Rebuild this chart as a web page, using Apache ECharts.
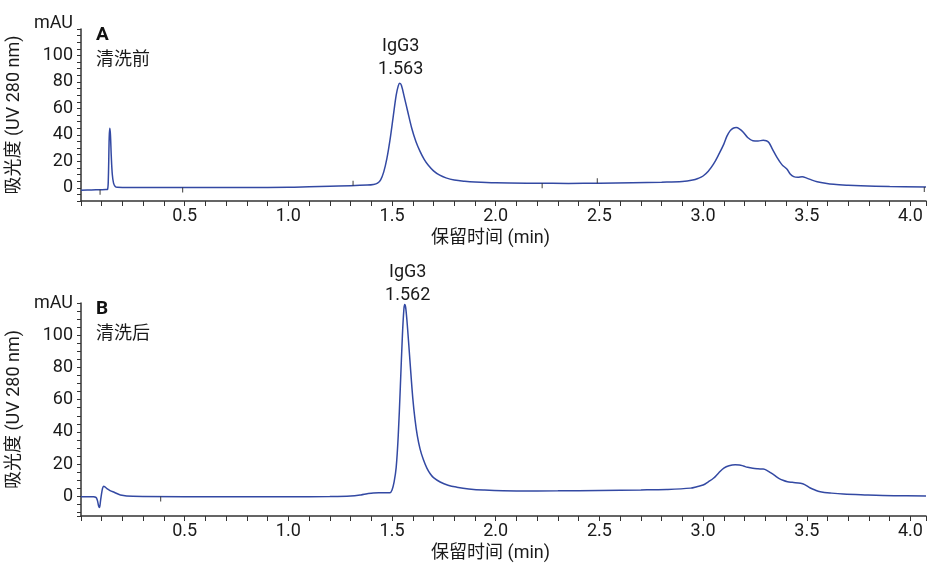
<!DOCTYPE html>
<html><head><meta charset="utf-8">
<script src="https://cdn.jsdelivr.net/npm/echarts@6/dist/echarts.min.js"></script>
<style>html,body{margin:0;padding:0;background:#fff}#c{width:927px;height:567px}</style>
</head><body><div id="c"></div>
<script>
// ---- Data (retention time in min, absorbance in mAU) ----
const timesA = [0, 0.05, 0.09, 0.12, 0.128, 0.132, 0.136, 0.139, 0.142, 0.146, 0.151, 0.157, 0.165, 0.175, 0.2, 0.3, 0.5, 0.8, 1.0, 1.1, 1.2, 1.3, 1.38, 1.41, 1.43, 1.445, 1.46, 1.475, 1.49, 1.505, 1.52, 1.53, 1.537, 1.545, 1.56, 1.575, 1.595, 1.615, 1.635, 1.655, 1.675, 1.70, 1.73, 1.76, 1.80, 1.85, 1.90, 2.0, 2.2, 2.35, 2.5, 2.66, 2.8, 2.9, 2.95, 2.975, 3.0, 3.025, 3.05, 3.075, 3.1, 3.115, 3.13, 3.145, 3.16, 3.175, 3.195, 3.215, 3.24, 3.265, 3.29, 3.305, 3.318, 3.335, 3.357, 3.38, 3.405, 3.42, 3.437, 3.457, 3.478, 3.50, 3.525, 3.55, 3.59, 3.63, 3.70, 3.76, 3.9, 4.075];
const valuesA = [-1.8, -1.7, -1.5, -1.4, -1.2, 8, 38, 45, 40, 24, 10, 3.5, 1, 0.3, 0.2, 0.2, 0.2, 0.2, 0.4, 0.8, 1.2, 1.5, 2.0, 2.5, 3.5, 6, 12, 22, 36, 53, 70, 77, 79, 77.5, 68, 58, 45, 35, 27.5, 21.5, 17, 12.8, 9.5, 7.5, 5.9, 4.9, 4.3, 3.7, 3.4, 3.3, 3.5, 3.8, 4.2, 4.7, 5.8, 7.0, 8.9, 12.5, 17.8, 25, 33, 39, 43, 45, 45.5, 44.5, 41.8, 38, 35.5, 35.3, 36, 35.5, 34, 29, 22.8, 17.5, 14, 10.5, 8.4, 7.9, 8.3, 7.3, 5.8, 4.6, 3.4, 2.6, 1.9, 1.5, 0.9, 0.5];

const timesB = [0, 0.06, 0.072, 0.079, 0.085, 0.089, 0.094, 0.099, 0.104, 0.109, 0.116, 0.125, 0.14, 0.16, 0.19, 0.25, 0.5, 1.0, 1.2, 1.3, 1.35, 1.38, 1.41, 1.45, 1.49, 1.50, 1.51, 1.52, 1.53, 1.54, 1.55, 1.557, 1.561, 1.566, 1.575, 1.587, 1.60, 1.611, 1.622, 1.635, 1.651, 1.668, 1.684, 1.70, 1.732, 1.77, 1.812, 1.87, 1.94, 2.1, 2.3, 2.5, 2.7, 2.825, 2.94, 2.97, 3.0, 3.025, 3.05, 3.075, 3.1, 3.125, 3.155, 3.175, 3.195, 3.215, 3.24, 3.265, 3.29, 3.305, 3.325, 3.345, 3.365, 3.385, 3.407, 3.43, 3.47, 3.49, 3.517, 3.54, 3.565, 3.62, 3.676, 3.78, 3.92, 4.075];
const valuesB = [-0.3, -0.3, -0.6, -2.5, -6, -7, -3, 1.5, 5, 6.3, 5.8, 4.8, 3.6, 2.5, 0.9, 0, -0.2, -0.2, -0.1, 0.2, 0.9, 1.6, 2.1, 2.2, 2.3, 4, 9, 18, 38, 68, 100, 116, 119, 117, 104, 83, 61, 47.5, 37.5, 29.5, 22.8, 17.5, 14, 11.6, 8.9, 6.9, 5.7, 4.6, 3.9, 3.3, 3.4, 3.7, 4.0, 4.3, 5.1, 6, 7, 9, 11.2, 14.5, 17.5, 19, 19.6, 19.5, 18.8, 18, 17.4, 17.1, 16.9, 16.3, 14.7, 13, 11.2, 10, 9.1, 8.7, 8.1, 7.3, 5.2, 3.9, 2.9, 2, 1.4, 0.9, 0.4, 0.2];

// event marks on the trace
const eventsA_down_t = [0.092, 0.49, 2.224, 4.067];
const eventsA_down_v = [-1.5, 0.2, 3.4, 0.5];
const eventsA_up_t = [1.312, 2.49];
const eventsA_up_v = [1.6, 3.5];
const eventsB_down_t = [0.384];
const eventsB_down_v = [-0.1];

// peak annotations
const peakA = { name: 'IgG3', rt: '1.563', t: 1.537, v: 79 };
const peakB = { name: 'IgG3', rt: '1.562', t: 1.561, v: 119 };

const panelLetters = ['A', 'B'];
const panelNotes = ['清洗前', '清洗后'];
const xName = '保留时间 (min)';
const yName = '吸光度 (UV 280 nm)';
const xRange = [0, 4.075];
const yRanges = [[-10, 120], [-12.2, 120]];

// ---- Chart ----
const FONT = 'Roboto, "Noto Sans CJK SC", sans-serif';
const FS = 18;
const TXT = '#1a1a1a';
const LINE = '#3349a3';
const zip = (a, b) => a.map((t, i) => [t, b[i]]);

function xAxisCfg(idx) {
  return {
    type: 'value', gridIndex: idx, min: xRange[0], max: xRange[1],
    minInterval: 0.1, maxInterval: 0.1, splitNumber: 40,
    name: xName, nameLocation: 'middle', nameGap: 29,
    nameTextStyle: { fontSize: FS, color: TXT, fontFamily: FONT, padding: [0, 26, 0, 0] },
    axisLine: { show: true, onZero: false, lineStyle: { color: '#333', width: 1.5 } },
    axisTick: { show: true, length: 5, lineStyle: { color: '#333', width: 1 } },
    axisLabel: {
      fontSize: FS, color: TXT, fontFamily: FONT, margin: 7,
      showMinLabel: true, showMaxLabel: true,
      formatter: v => (v > 0.01 && Math.abs(v * 2 - Math.round(v * 2)) < 1e-6) ? v.toFixed(1) : ''
    },
    splitLine: { show: false }
  };
}
function yAxisCfg(idx) {
  return {
    type: 'value', gridIndex: idx, min: yRanges[idx][0], max: yRanges[idx][1],
    minInterval: 5, maxInterval: 5, splitNumber: 26,
    name: yName, nameLocation: 'middle', nameGap: 48,
    nameTextStyle: { fontSize: FS, color: TXT, fontFamily: FONT },
    axisLine: { show: true, onZero: false, lineStyle: { color: '#333', width: 1.5 } },
    axisTick: { show: true, length: 4, lineStyle: { color: '#333', width: 1 } },
    axisLabel: {
      fontSize: FS, color: TXT, fontFamily: FONT, margin: 8,
      showMinLabel: true, showMaxLabel: true,
      formatter: v => {
        const r = Math.round(v);
        if (Math.abs(v - r) > 1e-6) return '';
        if (r === 120) return idx === 0 ? '{up|mAU}' : 'mAU';
        return (r >= 0 && r % 20 === 0) ? String(r) : '';
      },
      rich: { up: { fontSize: FS, color: TXT, fontFamily: FONT, padding: [0, 0, 12, 0] } }
    },
    splitLine: { show: false }
  };
}
function traceSeries(idx, t, v, peak, dist, dx) {
  return {
    type: 'line', xAxisIndex: idx, yAxisIndex: idx, data: zip(t, v),
    showSymbol: false, smooth: 0.35,
    lineStyle: { color: LINE, width: 1.5 }, silent: true, z: 3,
    markPoint: {
      symbol: 'circle', symbolSize: 0, silent: true,
      data: [{ coord: [peak.t, peak.v], value: peak.rt }],
      label: {
        show: true, position: 'top', distance: dist, offset: [dx, 0],
        formatter: peak.name + '\n' + peak.rt,
        fontSize: FS, lineHeight: 23, color: TXT, fontFamily: FONT
      }
    }
  };
}
function eventSeries(idx, t, v, dir) {
  return {
    type: 'scatter', xAxisIndex: idx, yAxisIndex: idx, data: zip(t, v),
    symbol: 'rect', symbolSize: [1.2, 5], symbolOffset: [0, dir * 2.5],
    itemStyle: { color: '#333' }, silent: true, z: 4
  };
}

const chart = echarts.init(document.getElementById('c'), null, { renderer: 'canvas' });
chart.setOption({
  backgroundColor: '#fff',
  animation: false,
  grid: [
    { left: 81, right: 1, top: 29, height: 172, outerBoundsMode: 'none', containLabel: false },
    { left: 81, right: 1, top: 303, height: 213, outerBoundsMode: 'none', containLabel: false }
  ],
  xAxis: [xAxisCfg(0), xAxisCfg(1)],
  yAxis: [yAxisCfg(0), yAxisCfg(1)],
  graphic: [
    { type: 'text', left: 96, top: 26, style: { text: panelLetters[0], font: 'bold 19px Roboto, sans-serif', fill: '#111' } },
    { type: 'text', left: 96, top: 49, style: { text: panelNotes[0], font: '18px "Noto Sans CJK SC", sans-serif', fill: TXT } },
    { type: 'text', left: 96, top: 300, style: { text: panelLetters[1], font: 'bold 19px Roboto, sans-serif', fill: '#111' } },
    { type: 'text', left: 96, top: 323, style: { text: panelNotes[1], font: '18px "Noto Sans CJK SC", sans-serif', fill: TXT } }
  ],
  series: [
    traceSeries(0, timesA, valuesA, peakA, 2, 1),
    traceSeries(1, timesB, valuesB, peakB, -2, 3),
    eventSeries(0, eventsA_down_t, eventsA_down_v, 1),
    eventSeries(0, eventsA_up_t, eventsA_up_v, -1),
    eventSeries(1, eventsB_down_t, eventsB_down_v, 1)
  ]
});
</script>
</body></html>
